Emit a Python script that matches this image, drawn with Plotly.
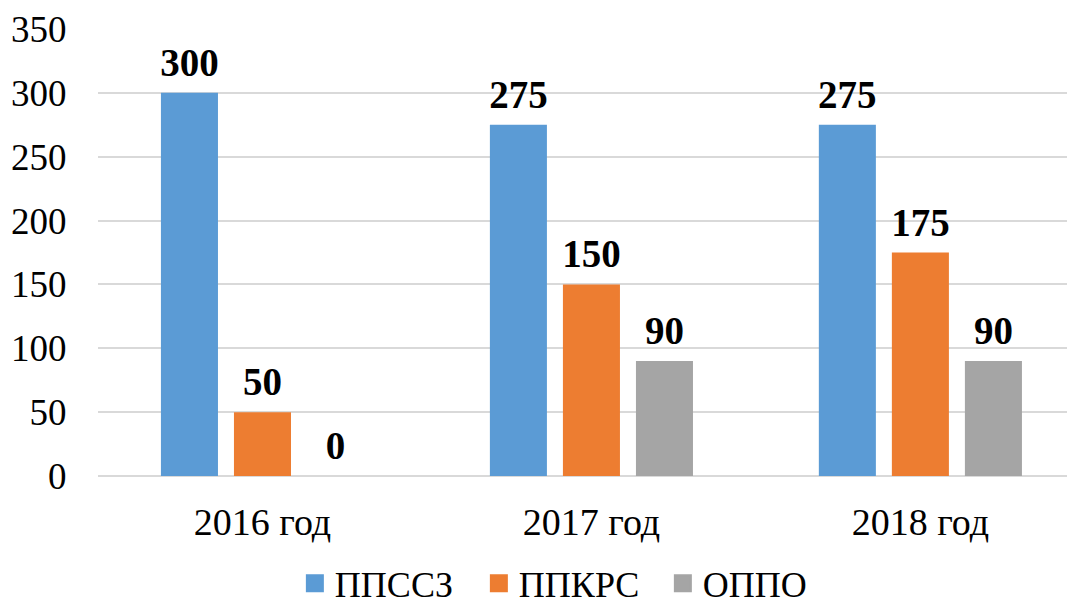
import plotly.graph_objects as go

categories = ["2016 год", "2017 год", "2018 год"]
series_names = ["ППССЗ", "ППКРС", "ОППО"]
ppssz = [300, 275, 275]
ppkrs = [50, 150, 175]
oppo = [0, 90, 90]
colors = ["#5B9BD5", "#ED7D31", "#A5A5A5"]
y_ticks = [0, 50, 100, 150, 200, 250, 300, 350]

FONT = "Liberation Serif, Times New Roman, serif"

fig = go.Figure()
for name, vals, col in zip(series_names, [ppssz, ppkrs, oppo], colors):
    fig.add_trace(go.Bar(
        x=categories, y=vals, name=name, showlegend=False,
        marker=dict(color=col, line=dict(width=0)),
        offsetgroup=name, alignmentgroup="a",
    ))
for name, vals in zip(series_names, [ppssz, ppkrs, oppo]):
    fig.add_trace(go.Scatter(
        x=categories, y=vals, name=name + " labels",
        mode="markers+text", showlegend=False, hoverinfo="skip",
        marker=dict(size=10, opacity=0),
        text=[str(v) for v in vals],
        textposition="top center",
        cliponaxis=False,
        offsetgroup=name, alignmentgroup="a",
        textfont=dict(family=FONT, size=39, color="black", weight="bold"),
    ))
# legend entries (square swatches)
for name, col in zip(series_names, colors):
    fig.add_trace(go.Scatter(
        x=[None], y=[None], name=name, mode="markers",
        marker=dict(symbol="square", size=16, color=col, line=dict(color=col, width=2)),
        offsetgroup=name, alignmentgroup="a", hoverinfo="skip",
    ))

fig.update_layout(
    width=1075, height=601,
    margin=dict(l=90, r=8, t=21, b=133, autoexpand=False),
    paper_bgcolor="white", plot_bgcolor="white",
    barmode="group", bargap=0.334, bargroupgap=0.219,
    scattermode="group", scattergap=0.334,
    font=dict(family=FONT, size=37, color="black"),
    showlegend=True,
    legend=dict(orientation="h", x=0.484, xanchor="center", y=-0.24, yanchor="middle",
                font=dict(family=FONT, size=36), traceorder="normal",
                tracegroupgap=0, itemwidth=30, itemsizing="trace",
                entrywidth=139, entrywidthmode="pixels", bgcolor="rgba(0,0,0,0)"),
)
fig.update_xaxes(
    type="category", range=[-0.5, 2.47], automargin=False,
    showgrid=False, showline=False, zeroline=False,
    ticks="outside", ticklen=12, tickcolor="rgba(0,0,0,0)",
    tickfont=dict(family=FONT, size=38),
)
fig.update_yaxes(
    range=[0, 350], tickvals=y_ticks, automargin=False,
    showgrid=True, gridcolor="#D9D9D9", gridwidth=1.5,
    zeroline=True, zerolinecolor="#D9D9D9", zerolinewidth=1.5,
    showline=False,
    ticks="outside", ticklen=23, tickcolor="rgba(0,0,0,0)",
    tickfont=dict(family=FONT, size=37),
)

fig.write_html("out.html")
